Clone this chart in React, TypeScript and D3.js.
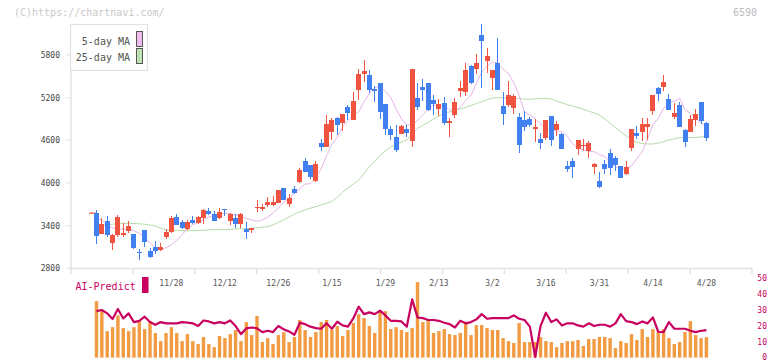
import React from 'react';
import * as d3 from 'd3';

// x-axis labels and the trading-day index they sit under
const dateLabels = ['11/28', '12/12', '12/26', '1/15', '1/29', '2/13', '3/2', '3/16', '3/31', '4/14', '4/28'];
const labelIndex = [14, 24, 34, 44, 54, 64, 74, 84, 94, 104, 114];

const yTicks = [2800, 3400, 4000, 4600, 5200, 5800];
const subTicks = [0, 10, 20, 30, 40, 50];

const prevClose = 3575;

const open = [
  3573, 3287, 3465, 3160, 3273, 3268, 3324, 3282, 3030, 3338, 3048, 3099, 3057, 3244, 3310, 3526, 3455, 3352, 3479, 3437,
  3507, 3606, 3564, 3507, 3630, 3470, 3507, 3428, 3353, 3343, 3643, 3643, 3695, 3690, 3723, 3929, 3704, 3915, 4008, 4308,
  4252, 4032, 4562, 4510, 4721, 4913, 4838, 5068, 4885, 5307, 5532, 5518, 5321, 5405, 5110, 4758, 4646, 4688, 4758, 4590,
  5194, 5349, 5405, 5166, 5040, 5124, 4847, 4955, 5293, 5279, 5644, 5602, 6080, 5714, 5475, 5691, 5082, 5096, 5054, 4927,
  4885, 4899, 4768, 4618, 4632, 4941, 4744, 4688, 4238, 4308, 4477, 4530, 4454, 4225, 4028, 4267, 4421, 4351, 4238, 4126,
  4492, 4702, 4717, 4787, 5012, 5335, 5349, 5180, 4927, 5096, 4745, 4717, 4885, 5138, 4843,
];
const close = [
  3259, 3423, 3273, 3268, 3521, 3300, 3394, 3090, 3025, 3174, 2959, 3043, 3103, 3310, 3507, 3408, 3371, 3455, 3432, 3521,
  3620, 3564, 3465, 3592, 3624, 3569, 3428, 3564, 3315, 3371, 3662, 3657, 3732, 3732, 3901, 3761, 3789, 3863, 4182, 4158,
  4088, 4266, 4510, 4829, 4885, 4815, 4969, 4988, 5152, 5532, 5574, 5307, 5293, 4997, 4758, 4674, 4463, 4801, 4702, 5602,
  5068, 5307, 5026, 5110, 5110, 4847, 4871, 5138, 5335, 5588, 5405, 5686, 5996, 5785, 5588, 5307, 4969, 5236, 5222, 4533,
  4787, 4815, 4782, 4561, 4885, 4604, 4829, 4477, 4196, 4224, 4604, 4540, 4557, 4267, 3948, 4196, 4210, 4253, 4070, 4225,
  4759, 4660, 4829, 4829, 5237, 5251, 5420, 5026, 4988, 4791, 4581, 4899, 4970, 4871, 4632,
];
const high = [
  3619, 3502, 3535, 3282, 3549, 3433, 3465, 3282, 3066, 3338, 3090, 3183, 3160, 3348, 3540, 3563, 3479, 3479, 3536, 3540,
  3634, 3648, 3606, 3648, 3630, 3578, 3564, 3578, 3446, 3371, 3760, 3704, 3807, 3817, 3901, 3929, 3845, 3957, 4210, 4351,
  4252, 4308, 4618, 4955, 4913, 4927, 4969, 5096, 5279, 5602, 5729, 5588, 5363, 5405, 5110, 4801, 4815, 4815, 4815, 5602,
  5405, 5461, 5405, 5236, 5180, 5208, 4913, 5194, 5433, 5686, 5658, 5813, 6235, 5890, 5588, 6038, 5279, 5433, 5251, 4983,
  5011, 4927, 4899, 4702, 4885, 4941, 4871, 4702, 4308, 4351, 4604, 4618, 4590, 4281, 4154, 4323, 4477, 4379, 4238, 4309,
  4759, 4801, 4913, 4913, 5237, 5349, 5518, 5251, 5124, 5138, 4759, 4956, 5040, 5138, 4857,
];
const low = [
  3146, 3280, 3235, 3062, 3235, 3236, 3301, 3071, 2916, 3099, 2949, 3005, 3047, 3216, 3301, 3404, 3357, 3338, 3418, 3423,
  3423, 3550, 3465, 3493, 3540, 3414, 3362, 3371, 3217, 3301, 3596, 3610, 3667, 3681, 3714, 3761, 3667, 3849, 3994, 4158,
  4060, 4018, 4454, 4510, 4604, 4674, 4730, 4885, 4885, 5166, 5419, 5265, 5138, 4899, 4674, 4604, 4435, 4688, 4646, 4505,
  5026, 5152, 5011, 4955, 4941, 4819, 4646, 4913, 5208, 5222, 5391, 5532, 5335, 5550, 5307, 5307, 4815, 5068, 4969, 4421,
  4730, 4787, 4575, 4477, 4604, 4519, 4660, 4477, 4154, 4069, 4393, 4449, 4356, 4131, 3929, 4126, 4112, 4168, 4070, 4112,
  4449, 4618, 4590, 4604, 4956, 5152, 5293, 5026, 4899, 4791, 4510, 4717, 4801, 4829, 4590,
];

const ma5 = [
  3500, 3480, 3400, 3370, 3355, 3350, 3348, 3330, 3290, 3240, 3160, 3085, 3062, 3090, 3127, 3195, 3270, 3360, 3410, 3445,
  3480, 3520, 3545, 3560, 3573, 3565, 3552, 3530, 3500, 3480, 3458, 3480, 3520, 3580, 3643, 3730, 3770, 3860, 3920, 3985,
  3990, 4070, 4200, 4380, 4540, 4640, 4790, 4880, 4950, 5000, 5140, 5260, 5340, 5360, 5290, 5200, 5040, 4900, 4820, 4810,
  4880, 4960, 5040, 5090, 5090, 5080, 5030, 5015, 5060, 5160, 5230, 5400, 5560, 5640, 5700, 5690, 5600, 5540, 5410, 5230,
  5000, 4950, 4900, 4830, 4760, 4738, 4730, 4720, 4660, 4550, 4495, 4465, 4445, 4440, 4400, 4370, 4300, 4230, 4190, 4200,
  4240, 4340, 4440, 4620, 4820, 4910, 5050, 5130, 5150, 5190, 5030, 4980, 4910, 4840, 4800,
];
const ma25 = [
  3400, 3405, 3410, 3420, 3430, 3432, 3433, 3430, 3425, 3420, 3408, 3395, 3365, 3340, 3332, 3330, 3330, 3330, 3330, 3332,
  3335, 3340, 3344, 3344, 3344, 3348, 3352, 3356, 3358, 3362, 3370, 3378, 3385, 3410, 3445, 3480, 3520, 3560, 3596, 3620,
  3645, 3666, 3690, 3715, 3740, 3800, 3870, 3930, 3985, 4040, 4130, 4228, 4300, 4390, 4450, 4505, 4540, 4575, 4603, 4690,
  4767, 4810, 4850, 4900, 4940, 4978, 5000, 5020, 5040, 5060, 5090, 5115, 5140, 5170, 5195, 5199, 5199, 5195, 5190, 5185,
  5178, 5178, 5182, 5186, 5189, 5180, 5150, 5125, 5100, 5082, 5060, 5035, 5010, 4985, 4955, 4900, 4840, 4780, 4720, 4660,
  4610, 4570, 4555, 4548, 4547, 4560, 4580, 4603, 4620, 4636, 4636, 4638, 4640, 4645, 4659,
];

const volume = [
  35.6, 30.0, 16.7, 19.2, 26.6, 18.6, 16.7, 19.2, 23.0, 18.0, 23.0, 15.5, 10.4, 15.5, 19.2, 15.5, 10.4, 14.8, 10.4, 8.5,
  13.0, 8.5, 6.6, 13.6, 12.3, 14.8, 17.4, 10.4, 22.4, 14.2, 26.2, 9.8, 12.3, 8.5, 14.2, 16.1, 9.8, 13.0, 23.7, 17.4,
  13.0, 16.1, 22.4, 23.7, 17.4, 19.9, 13.6, 17.4, 21.8, 27.4, 24.9, 19.9, 15.5, 28.9, 29.3, 18.0, 19.2, 17.4, 16.1, 18.6,
  47.6, 22.4, 23.7, 15.5, 16.7, 18.0, 14.8, 14.2, 15.5, 22.4, 14.2, 20.5, 20.5, 18.6, 17.4, 17.4, 12.3, 10.4, 9.2, 21.8,
  9.8, 9.8, 9.8, 13.0, 10.4, 9.8, 6.6, 9.2, 10.4, 10.4, 11.1, 7.3, 11.7, 11.7, 13.0, 13.0, 12.3, 6.0, 10.4, 9.2,
  14.8, 11.1, 18.0, 13.0, 18.0, 16.7, 18.0, 12.3, 8.5, 9.8, 16.1, 23.0, 14.2, 12.3, 12.9,
];
const aiPredict = [
  29.3, 30.0, 27.9, 24.3, 30.6, 24.7, 27.9, 22.4, 23.2, 25.8, 22.4, 20.7, 22.4, 21.6, 21.6, 21.6, 22.4, 22.0, 21.6, 19.9,
  23.4, 22.8, 21.6, 22.4, 21.6, 23.4, 19.9, 14.8, 18.4, 19.0, 18.4, 16.1, 16.9, 16.1, 19.9, 17.8, 16.5, 14.4, 22.0, 21.1,
  19.5, 18.6, 18.2, 21.6, 18.2, 22.6, 20.3, 19.5, 24.7, 32.1, 27.4, 28.5, 27.4, 29.6, 26.6, 23.2, 23.2, 22.8, 19.5, 36.7,
  25.3, 24.9, 23.7, 23.7, 23.2, 22.0, 21.1, 19.0, 23.2, 21.6, 22.4, 24.1, 27.4, 24.5, 24.9, 24.9, 24.9, 24.9, 26.6, 24.5,
  23.7, 19.5, 0.5, 19.9, 28.3, 22.4, 24.1, 20.3, 21.6, 21.6, 20.3, 19.5, 21.6, 19.9, 20.7, 20.7, 19.5, 21.6, 27.4, 23.0,
  22.4, 21.1, 22.8, 21.6, 25.3, 16.3, 16.1, 22.4, 18.2, 18.2, 18.2, 16.9, 16.1, 16.9, 17.3,
];

const W = 772;
const H = 361;
const UP = '#f05340';
const DOWN = '#4080f0';
const MONO = '"DejaVu Sans Mono", monospace';

export default function App() {
  const n = close.length;
  const x = d3.scaleLinear().domain([0, n - 1]).range([96.5, 706.4]);
  const y = d3.scaleLinear().domain([2800, 5800]).range([268.3, 54.9]);
  const sub = d3.scaleLinear().domain([0, 50]).range([357.6, 278.3]);
  const gridX = d3.scaleLinear().domain([0, 11]).range([71, 752]);

  const idx = d3.range(n);
  const maLine = (vals: number[]) =>
    d3.line<number>().x((i) => x(i)).y((i) => y(vals[i]))(idx) || '';
  const aiLine = d3.line<number>().x((i) => x(i)).y((i) => sub(aiPredict[i]))(idx) || '';

  return (
    <svg width={W} height={H} style={{ position: 'absolute', left: 0, top: 0, background: '#fff' }}>
      <text x={14} y={16} fontFamily={MONO} fontSize={10} fill="#c8c8c8">(C)https://chartnavi.com/</text>
      <text x={757} y={16} fontFamily={MONO} fontSize={10} fill="#bbb" textAnchor="end">6590</text>

      {/* axes */}
      <line x1={71} x2={71} y1={24} y2={268.5} stroke="#e2e2e2" strokeWidth={1.5} />
      <line x1={71} x2={752} y1={268.5} y2={268.5} stroke="#e2e2e2" strokeWidth={1.5} />
      {d3.range(12).map((k) => (
        <line key={k} x1={gridX(k)} x2={gridX(k)} y1={268.5} y2={274} stroke="#e2e2e2" strokeWidth={1.5} />
      ))}
      {yTicks.map((t) => (
        <g key={t}>
          <line x1={66.5} x2={71} y1={y(t)} y2={y(t)} stroke="#e2e2e2" strokeWidth={1.2} />
          <text x={60} y={y(t) + 3} fontFamily={MONO} fontSize={8} fill="#444" textAnchor="end">{t}</text>
        </g>
      ))}
      {dateLabels.map((d, k) => (
        <text key={d} x={x(labelIndex[k])} y={285.5} fontFamily={MONO} fontSize={8} fill="#555" textAnchor="middle">{d}</text>
      ))}

      {/* moving averages */}
      <path d={maLine(ma25)} fill="none" stroke="#b4dca8" strokeWidth={1} />
      <path d={maLine(ma5)} fill="none" stroke="#e8b4ea" strokeWidth={1} />

      {/* candles */}
      <line x1={x(-1) - 2} x2={x(-1) + 4.5} y1={y(prevClose)} y2={y(prevClose)} stroke={UP} strokeWidth={1.3} />
      <g shapeRendering="crispEdges">
        {idx.map((i) => {
          const up = close[i] >= open[i];
          const c = up ? UP : DOWN;
          const top = y(Math.max(open[i], close[i]));
          const bot = y(Math.min(open[i], close[i]));
          return (
            <g key={i}>
              <line x1={x(i)} x2={x(i)} y1={y(high[i])} y2={y(low[i])} stroke={c} strokeWidth={1} />
              <rect x={x(i) - 2.5} y={top} width={5} height={Math.max(1.2, bot - top)} fill={c} />
            </g>
          );
        })}
      </g>

      {/* legend */}
      <rect x={70.5} y={24.5} width={77} height={46} fill="#fff" stroke="#e2e2e2" strokeWidth={1.2} />
      <text x={130} y={44.5} fontFamily={MONO} fontSize={10} fill="#555" textAnchor="end">5-day MA</text>
      <text x={130} y={61} fontFamily={MONO} fontSize={10} fill="#555" textAnchor="end">25-day MA</text>
      <rect x={136.5} y={31.5} width={6} height={15} fill="#f0bcef" stroke="#555" strokeWidth={1} />
      <rect x={136.5} y={48.5} width={6} height={15} fill="#bfe2b2" stroke="#555" strokeWidth={1} />

      {/* AI-Predict panel */}
      <text x={75.5} y={289.5} fontFamily={MONO} fontSize={10} fill="#c8005f">AI-Predict</text>
      <rect x={142} y={277} width={6.5} height={16} fill="#c8005f" />
      {idx.map((i) => (
        <rect key={i} x={x(i) - 1.7} y={sub(volume[i])} width={3.4} height={sub(0) - sub(volume[i])} fill="#f39b43" />
      ))}
      <path d={aiLine} fill="none" stroke="#c8005f" strokeWidth={2.2} strokeLinejoin="round" />
      {subTicks.map((t) => (
        <text key={t} x={767} y={Math.min(sub(t) + 3, 359.5)} fontFamily={MONO} fontSize={8} fill="#c8005f" textAnchor="end">{t}</text>
      ))}
    </svg>
  );
}
